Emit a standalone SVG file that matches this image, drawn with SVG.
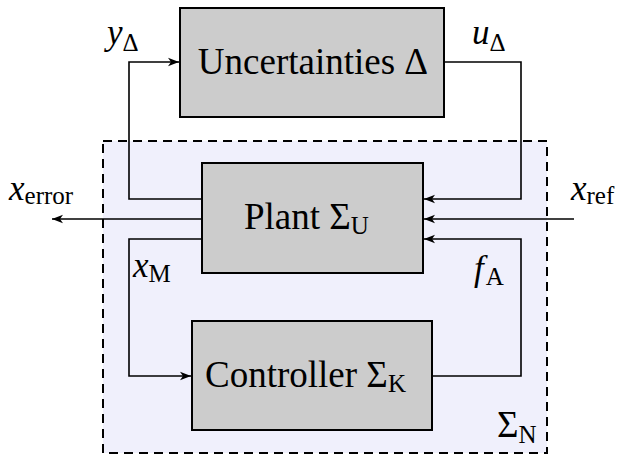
<svg xmlns="http://www.w3.org/2000/svg" width="627" height="461" viewBox="0 0 627 461">
<style>
.blk{fill:#cccccc;stroke:#000;stroke-width:2}
.frame{fill:#f0f0fc;stroke:#000;stroke-width:2;stroke-dasharray:9 6}
.wire{fill:none;stroke:#000;stroke-width:1.6;stroke-linejoin:miter}
</style>
<defs>
<marker id="ah" markerUnits="userSpaceOnUse" markerWidth="12" markerHeight="10" viewBox="0 0 12 10" refX="11" refY="5" orient="auto">
<path d="M0,0.8 L11,5 L0,9.2 L3,5 z" fill="#000"/>
</marker>
</defs>
<rect width="627" height="461" fill="#ffffff"/>
<g id="network">
<rect class="frame" x="103" y="141" width="444" height="312"/>
<text x="497" y="437" font-family="Liberation Serif" font-size="37">Σ<tspan font-size="25" dy="6">N</tspan></text>
</g>
<g id="connectors">
<polyline class="wire" points="202,199 129,199 129,62 179,62" marker-end="url(#ah)"/>
<polyline class="wire" points="444,62 521,62 521,199 424,199" marker-end="url(#ah)"/>
<polyline class="wire" points="574,219 424,219" marker-end="url(#ah)"/>
<polyline class="wire" points="202,219 52,219" marker-end="url(#ah)"/>
<polyline class="wire" points="202,239 129,239 129,376 191,376" marker-end="url(#ah)"/>
<polyline class="wire" points="432,376 521,376 521,239 424,239" marker-end="url(#ah)"/>
</g>
<g id="uncertainties">
<rect class="blk" x="180" y="8" width="264" height="109"/>
<text x="313" y="74" text-anchor="middle" font-family="Liberation Serif" font-size="37">Uncertainties Δ</text>
</g>
<g id="plant">
<rect class="blk" x="202" y="163" width="221" height="110"/>
<text x="244" y="229" font-family="Liberation Serif" font-size="37">Plant Σ<tspan font-size="25" dy="5">U</tspan></text>
</g>
<g id="controller">
<rect class="blk" x="192" y="321" width="240" height="109"/>
<text x="205" y="387" font-family="Liberation Serif" font-size="37">Controller Σ<tspan font-size="25" dy="5">K</tspan></text>
</g>
<g id="labels">
<text x="107" y="44" font-family="Liberation Serif" font-size="35" font-style="italic">y<tspan font-style="normal" font-size="25" dy="7">Δ</tspan></text>
<text x="472" y="44" font-family="Liberation Serif" font-size="35" font-style="italic">u<tspan font-style="normal" font-size="25" dy="7">Δ</tspan></text>
<text x="9" y="200" font-family="Liberation Serif" font-size="35" font-style="italic">x<tspan font-style="normal" font-size="25" dy="4">error</tspan></text>
<text x="571" y="200" font-family="Liberation Serif" font-size="35" font-style="italic">x<tspan font-style="normal" font-size="25" dy="4">ref</tspan></text>
<text x="133" y="277" font-family="Liberation Serif" font-size="35" font-style="italic">x<tspan font-style="normal" font-size="25" dy="5">M</tspan></text>
<text x="474" y="280" font-family="Liberation Serif" font-size="35" font-style="italic">f<tspan font-style="normal" font-size="25" dy="5" dx="2">A</tspan></text>
</g>
</svg>
